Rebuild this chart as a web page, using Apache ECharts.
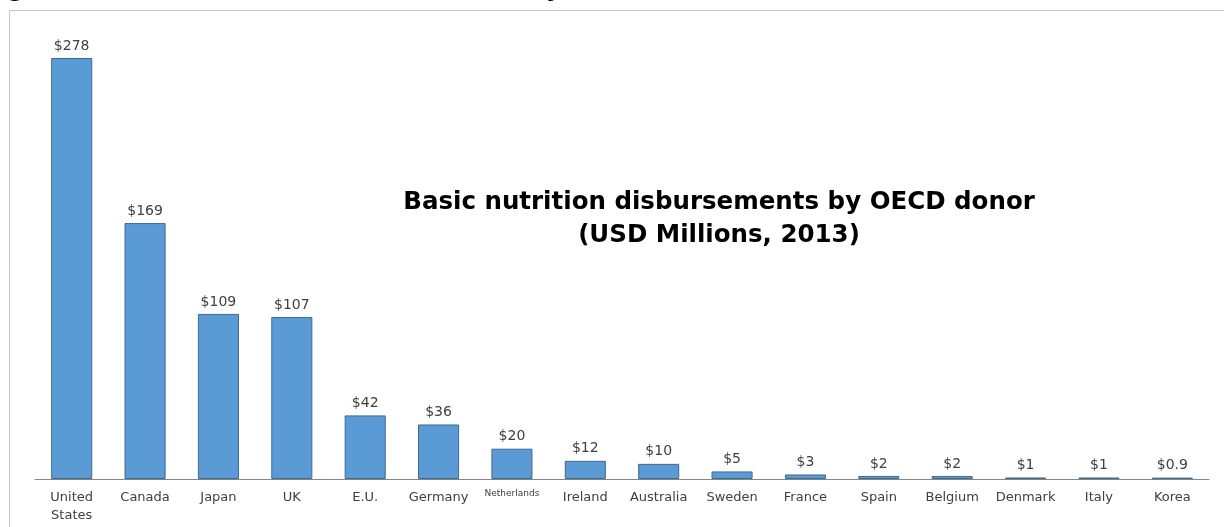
<!DOCTYPE html>
<html>
<head>
<meta charset="utf-8">
<script src="https://cdn.jsdelivr.net/npm/echarts@6/dist/echarts.min.js"></script>
<style>html,body{margin:0;padding:0;background:#fff;}#c{width:1224px;height:527px;}</style>
</head>
<body>
<div id="c"></div>
<script>
const donors = ['United\nStates','Canada','Japan','UK','E.U.','Germany','Netherlands','Ireland','Australia','Sweden','France','Spain','Belgium','Denmark','Italy','Korea'];
const disbursements = [278,169,109,107,42,36,20,12,10,5,3,2,2,1,1,0.9];
const valueLabels = ['$278','$169','$109','$107','$42','$36','$20','$12','$10','$5','$3','$2','$2','$1','$1','$0.9'];
const chartTitle = 'Basic nutrition disbursements by OECD donor\n(USD Millions, 2013)';
const figureCaption = 'Figure 1: Basic nutrition disbursements by OECD donor';

const chart = echarts.init(document.getElementById('c'), null, {renderer:'canvas'});
const font = '"DejaVu Sans", "Open Sans", sans-serif';
chart.setOption({
  animation: false,
  backgroundColor: '#fff',
  graphic: [
    {type:'rect', shape:{x:9.5,y:10.5,width:1240,height:600}, style:{fill:'none', stroke:'#c6c6c6', lineWidth:1}, z:-1},
    {type:'text', left:-17, top:-22, style:{text:figureCaption, font:'bold 24px ' + font, fill:'#000'}}
  ],
  title: {
    text: chartTitle,
    left: 714, top: 181, textAlign: 'center',
    textStyle: {fontFamily: font, fontSize: 24.5, fontWeight: 'bold', color:'#000', lineHeight: 33}
  },
  grid: {left: 35, right: 15, top: 58, bottom: 48, containLabel: false},
  xAxis: {
    type: 'category', data: donors,
    axisLine: {lineStyle: {color:'#868686', width:1}},
    axisTick: {show:false},
    axisLabel: {
      interval: 0, margin: 10, color:'#404040', fontFamily: font, fontSize: 13, lineHeight: 18,
      formatter: v => v === 'Netherlands' ? '{s|' + v + '}' : v,
      rich: {s: {fontSize: 9, fontFamily: font, color:'#404040', padding:[0,0,8,0]}}
    }
  },
  yAxis: {type:'value', min:0, max:278, show:false, splitLine:{show:false}},
  series: [{
    type: 'bar', data: disbursements, barCategoryGap: '44%',
    itemStyle: {color:'#5b9bd5', borderColor:'#3f6a8f', borderWidth:1},
    label: {
      show: true, position: 'top', distance: 5, color:'#404040', fontFamily: font, fontSize: 14,
      formatter: p => valueLabels[p.dataIndex]
    }
  }]
});
</script>
</body>
</html>
